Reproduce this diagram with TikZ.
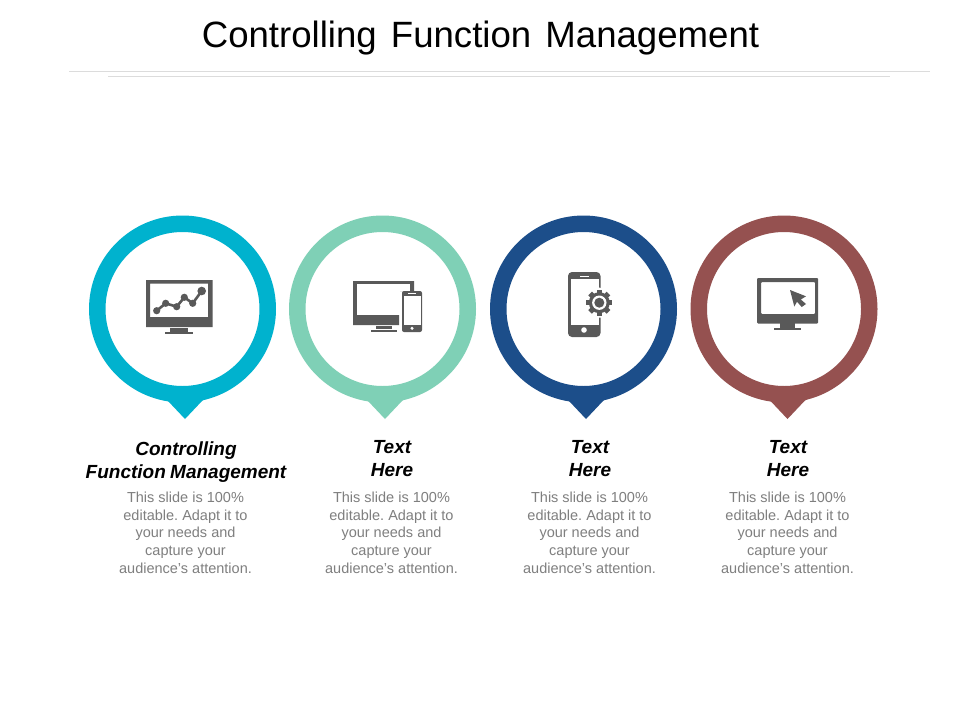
\documentclass[tikz,border=0pt]{standalone}
\usepackage{fontspec}
\setmainfont{Liberation Sans}
\frenchspacing
\definecolor{ringa}{HTML}{00B2CE}
\definecolor{ringb}{HTML}{7FD0B6}
\definecolor{ringc}{HTML}{1C4E8A}
\definecolor{ringd}{HTML}{955150}
\definecolor{icongray}{HTML}{595959}
\definecolor{bodygray}{HTML}{7F7F7F}
\definecolor{rulegray}{HTML}{DCDCDC}
\tikzset{
  titletext/.style={font=\fontsize{36.6}{40}\selectfont, text=black, inner sep=0pt, anchor=center},
  headtext/.style={font=\fontsize{19}{23}\selectfont\bfseries\itshape, text=black, align=center, inner sep=0pt, anchor=north},
  bodytext/.style={font=\fontsize{14.5}{17.6}\selectfont, text=bodygray, align=center, inner sep=0pt, anchor=north},
  rulerline/.style={draw=rulegray, line width=0.8pt},
  icon/.style={fill=icongray, draw=none},
  iconhole/.style={fill=white, draw=none}
}
\begin{document}
\begin{tikzpicture}[x=1pt,y=-1pt]
\useasboundingbox (0,0) rectangle (960,720);
\fill[white] (0,0) rectangle (960,720);
\node[titletext] (title) at (480.5,38) {Controlling\hspace{4pt} Function\hspace{4pt} Management};
\coordinate (r1a) at (69,71); \coordinate (r1b) at (930,71);
\coordinate (r2a) at (108,76); \coordinate (r2b) at (890,76);
\draw[rulerline] (r1a) -- (r1b);
\draw[rulerline] (r2a) -- (r2b);
% rings with pointers
\foreach \cx/\tx/\col in {182.5/185/ringa,382.5/385/ringb,583.5/586/ringc,784/787.5/ringd}{
  \fill[\col] (\tx-26,396) .. controls (\tx-21,398.5) and (\tx-18.5,399) .. (\tx-17,401) -- (\tx,419) -- (\tx+17,401) .. controls (\tx+18.5,399) and (\tx+21,398.5) .. (\tx+26,396) -- cycle;
  \fill[\col,even odd rule] (\cx,309) circle[radius=93.5] (\cx,309) circle[radius=77];
}
% icon 1
\fill[icon,even odd rule] (146,280) rectangle (212.5,327) (150,283.5) rectangle (208,317);
\fill[icon] (170,328) rectangle (188,331.5);
\fill[icon] (165,332) rectangle (193,334);
\draw[icongray,line width=2.6pt] (156.7,310.7) -- (165.7,303.3) -- (176.7,306.7) -- (184.3,297.3) -- (192.7,303.3) -- (201.7,291);
\foreach \p/\r in {{156.7,310.7}/3.6,{165.7,303.3}/3.6,{176.7,306.7}/3.6,{184.3,297.3}/3.6,{192.7,303.3}/3.6,{201.7,291}/4.3}{
  \fill[icon] (\p) circle[radius=\r];
}
% icon 2
\fill[icon] (353,281) rectangle (414,291) (353,281) rectangle (357,325) (353,315) rectangle (399,325) (410,281) rectangle (414,291);
\fill[icon] (376,326) rectangle (392,329);
\fill[icon] (371,330) rectangle (397,332);
\fill[icon,rounded corners=2pt] (402,291) rectangle (422,332);
\fill[iconhole] (403.7,295.5) rectangle (420.5,325);
\fill[iconhole] (412,328.3) circle[radius=1.7];
\fill[white] (408,293) rectangle (416,293.8);
\fill[iconhole] (357,284) rectangle (410,291);
\fill[iconhole] (357,291) rectangle (400,315);
% icon 3
\fill[icon,rounded corners=4pt] (568,272) rectangle (600.5,337);
\fill[iconhole] (570.5,278.5) rectangle (598.5,325);
\fill[iconhole] (580,275.5) rectangle (589,276.7);
\fill[iconhole] (584,330) circle[radius=2.8];
\fill[iconhole] (599.3,302.7) circle[radius=15];
\fill[iconhole] (598.5,288) rectangle (603,317);
\foreach \a in {0,45,...,315}{
  \fill[icon,rotate around={\a:(599.3,302.7)}] (596.7,289.7) rectangle (601.9,295);
}
\fill[icon] (599.3,302.7) circle[radius=10.5];
\fill[iconhole] (599.3,302.7) circle[radius=7.2];
\fill[icon] (599.3,302.7) circle[radius=5];
% icon 4
\fill[icon,even odd rule,rounded corners=1pt] (757,278) rectangle (818,323.5) (761,282) rectangle (815,314);
\fill[icon] (780,323) rectangle (795,328.5);
\fill[icon] (774,328) rectangle (801,330);
\fill[icon] (790,290) -- (806,296.3) -- (800.8,299.5) -- (806,304) -- (801.7,307) -- (797,301.7) -- (794.3,306.5) -- cycle;
% labels
\node[headtext] (h1) at (186,441.5) {Controlling\\[0pt]Function\hspace{-1pt} Management};
\node[headtext] (h2) at (392,440.5) {Text\\Here};
\node[headtext] (h3) at (590,440.5) {Text\\Here};
\node[headtext] (h4) at (788,440.5) {Text\\Here};
\foreach \n/\x in {1/185.5,2/391.5,3/589.5,4/787.5}{
  \node[bodytext] (b\n) at (\x,492) {This slide is 100\%\\editable. Adapt it to\\your needs and\\capture your\\audience's attention.};
}
\end{tikzpicture}
\end{document}
